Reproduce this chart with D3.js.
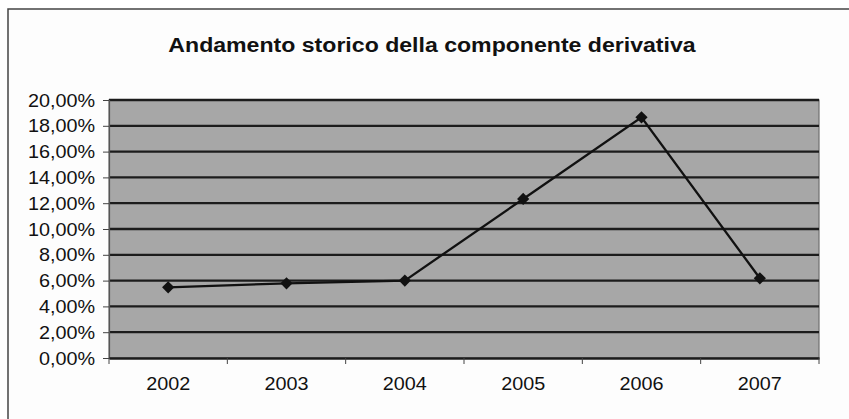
<!DOCTYPE html>
<html><head><meta charset="utf-8">
<script src="https://cdn.jsdelivr.net/npm/d3@7"></script>
<style>html,body{margin:0;padding:0;background:#fff;}svg{display:block;}</style>
</head><body>
<svg id="c" width="849" height="419"></svg>
<script>
const title = "Andamento storico della componente derivativa";
const years = ["2002","2003","2004","2005","2006","2007"];
const values = [5.48, 5.79, 6.0, 12.33, 18.66, 6.18];
const yTicks = [0,2,4,6,8,10,12,14,16,18,20];

const svg = d3.select("#c");
const W = 849, H = 419;
const m = {left:109, right:819, top:100, bottom:358};
const sx = 1.1;
const font = "'Liberation Sans', Arial, sans-serif";

svg.append("rect").attr("width",W).attr("height",H).attr("fill","#fff");
svg.append("rect").attr("x",8).attr("y",9).attr("width",900).attr("height",500)
  .attr("fill","#fdfdfd").attr("stroke","#444").attr("stroke-width",1.5);

svg.append("text").attr("transform",`translate(432,52) scale(1.1,1)`)
  .attr("text-anchor","middle").attr("font-family",font).attr("font-size",21)
  .attr("font-weight","bold").attr("fill","#111").text(title);

const x = d3.scaleBand().domain(years).range([m.left,m.right]);
const y = d3.scaleLinear().domain([0,20]).range([m.bottom,m.top]);

svg.append("rect").attr("x",m.left).attr("y",m.top).attr("width",m.right-m.left)
  .attr("height",m.bottom-m.top).attr("fill","#a7a7a7").attr("stroke","#6e6e6e").attr("stroke-width",1.2);

svg.append("g").selectAll("line").data(yTicks.filter(d=>d>0)).join("line")
  .attr("x1",m.left).attr("x2",m.right).attr("y1",d=>y(d)).attr("y2",d=>y(d))
  .attr("stroke","#1c1c1c").attr("stroke-width",2.3);

const fmt = d => d.toFixed(2).replace(".",",")+"%";
const yAxis = svg.append("g").attr("transform",`translate(${m.left},0)`)
  .call(d3.axisLeft(y).tickValues(yTicks).tickSize(6).tickFormat(""));
yAxis.select(".domain").attr("stroke","#555").attr("stroke-width",1.2);
yAxis.selectAll(".tick line").attr("stroke","#444");
svg.append("g").selectAll("text").data(yTicks).join("text")
  .attr("transform",d=>`translate(95,${y(d)+6.5}) scale(${sx},1)`)
  .attr("text-anchor","end").attr("font-family",font).attr("font-size",18)
  .attr("fill","#111").text(fmt);

const xAxis = svg.append("g").attr("transform",`translate(0,${m.bottom})`)
  .call(d3.axisBottom(x).tickSize(0).tickFormat(""));
xAxis.select(".domain").attr("stroke","#1c1c1c").attr("stroke-width",2.3);
const bounds = years.map(d=>x(d)).concat([m.right]);
svg.append("g").selectAll("line").data(bounds).join("line")
  .attr("x1",d=>d).attr("x2",d=>d).attr("y1",m.bottom).attr("y2",m.bottom+6)
  .attr("stroke","#444").attr("stroke-width",1);
svg.append("g").selectAll("text").data(years).join("text")
  .attr("transform",d=>`translate(${x(d)+x.bandwidth()/2},390) scale(${sx},1)`)
  .attr("text-anchor","middle").attr("font-family",font).attr("font-size",18)
  .attr("fill","#111").text(d=>d);

const pts = years.map((d,i)=>[x(d)+x.bandwidth()/2, y(values[i])]);
svg.append("path").attr("d",d3.line()(pts)).attr("fill","none")
  .attr("stroke","#111").attr("stroke-width",2.3);
svg.append("g").selectAll("path").data(pts).join("path")
  .attr("transform",d=>`translate(${d[0]},${d[1]})`)
  .attr("d",d3.symbol(d3.symbolDiamond2,95)).attr("fill","#111");
</script>
</body></html>
